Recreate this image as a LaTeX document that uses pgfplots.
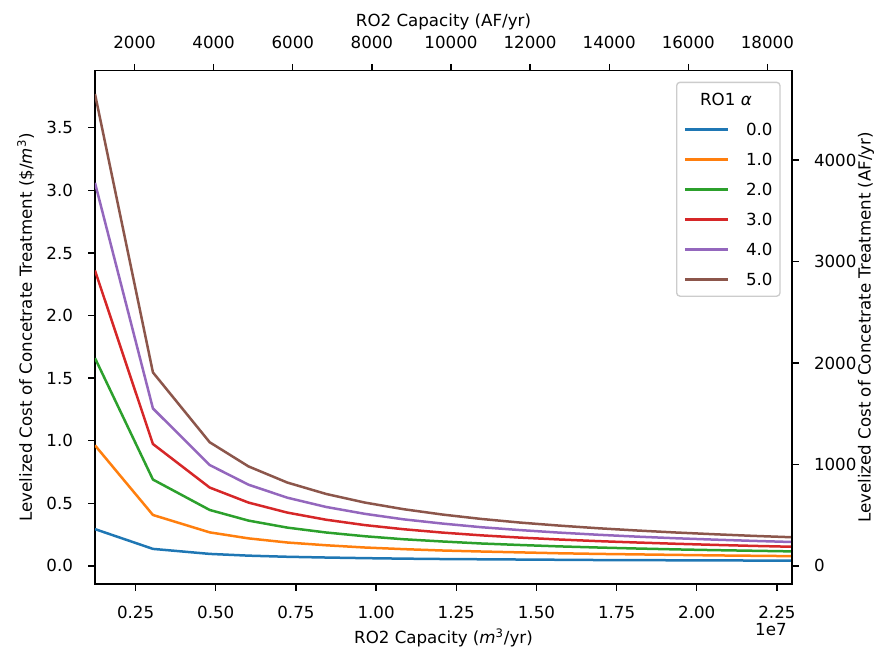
\documentclass[border=0pt]{standalone}
\usepackage{fontspec}
\setmainfont{DejaVu Sans}
\usepackage{pgfplots}
\pgfplotsset{compat=1.18}
\usepackage{pgfplotstable}

\definecolor{c0}{HTML}{1F77B4}
\definecolor{c1}{HTML}{FF7F0E}
\definecolor{c2}{HTML}{2CA02C}
\definecolor{c3}{HTML}{D62728}
\definecolor{c4}{HTML}{9467BD}
\definecolor{c5}{HTML}{8C564B}
\definecolor{legframe}{HTML}{CCCCCC}

\pgfplotstableread{
x a0 a1 a2 a3 a4 a5
1233500 0.294 0.963 1.660 2.360 3.060 3.770
3040000 0.136 0.407 0.690 0.974 1.258 1.546
4810000 0.096 0.268 0.447 0.626 0.806 0.988
6020000 0.082 0.220 0.362 0.506 0.649 0.795
7230000 0.073 0.187 0.306 0.426 0.545 0.666
8440000 0.067 0.165 0.267 0.369 0.471 0.575
9650000 0.062 0.147 0.237 0.326 0.416 0.506
10860000 0.058 0.134 0.213 0.293 0.372 0.453
12080000 0.055 0.123 0.195 0.266 0.338 0.410
13290000 0.053 0.115 0.179 0.244 0.309 0.375
14500000 0.051 0.108 0.167 0.226 0.286 0.346
15710000 0.049 0.101 0.156 0.211 0.266 0.322
16920000 0.047 0.096 0.147 0.198 0.249 0.301
18130000 0.046 0.092 0.139 0.187 0.234 0.283
19340000 0.045 0.088 0.132 0.177 0.221 0.267
20550000 0.044 0.084 0.126 0.168 0.210 0.253
21760000 0.043 0.081 0.121 0.160 0.200 0.240
22970000 0.042 0.078 0.116 0.153 0.191 0.229
}\costdata

\pgfplotsset{
  common/.style={
    at={(0,0)}, anchor=south west,
    scale only axis, width=418.2pt, height=308pt,
    tick align=outside,
    major tick length=4pt,
    axis line style={line width=0.8pt},
    every tick/.style={black, line width=0.8pt},
    tick label style={inner sep=0pt, font=\fontsize{10}{12}\selectfont},
    ticklabel shift=9pt,
    /pgf/number format/assume math mode=true,
    label style={font=\fontsize{10}{12}\selectfont, inner sep=0pt},
  }
}

\begin{document}
\begin{tikzpicture}
\begin{axis}[
  common,
  xmin=1233500, xmax=22970000,
  ymin=-0.1445, ymax=3.9564,
  tick pos=left,
  xtick={2500000,5000000,7500000,10000000,12500000,15000000,17500000,20000000,22500000},
  scaled x ticks=base 10:-7,
  xtick scale label code/.code={1e7},
  every x tick scale label/.style={at={(axis description cs:1,0)}, anchor=east, yshift=-27.6pt, xshift=-3pt, inner sep=0pt, font=\fontsize{10}{12}\selectfont},
  xticklabel style={/pgf/number format/fixed, /pgf/number format/fixed zerofill, /pgf/number format/precision=2},
  ytick={0,0.5,1,1.5,2,2.5,3,3.5},
  yticklabel style={/pgf/number format/fixed, /pgf/number format/fixed zerofill, /pgf/number format/precision=1},
  xlabel={RO2 Capacity (\textit{m}\textsuperscript{3}/yr)},
  xlabel style={at={([yshift=-32.4pt]axis description cs:0.5,0)}, anchor=center},
  ylabel={Levelized Cost of Concetrate Treatment (\$/\textit{m}\textsuperscript{3})},
  ylabel style={at={([xshift=-41.5pt]axis description cs:0,0.5)}, anchor=center},
  legend image code/.code={\draw[#1] (0pt,0pt) -- (25.6pt,0pt);},
  legend cell align=left,
  legend style={at={(1,1)}, anchor=north east, xshift=-6.8pt, yshift=-6.6pt,
    draw=legframe, line width=0.8pt, rounded corners=2pt, fill=white, fill opacity=0.8, text opacity=1,
    inner xsep=4.5pt, inner ysep=6.5pt, row sep=10.7pt, column sep=10pt,
    font=\fontsize{10}{12}\selectfont,
    nodes={inner sep=0pt, text height=7.3pt, text depth=0pt}},
]
\addlegendimage{empty legend}
\addlegendentry{\makebox[0pt][l]{\hspace*{-28pt}RO1 \textit{α}}}
\addplot[c0, line width=1.5pt, line join=round] table[x=x, y=a0] {\costdata};
\addlegendentry{0.0}
\addplot[c1, line width=1.5pt, line join=round] table[x=x, y=a1] {\costdata};
\addlegendentry{1.0}
\addplot[c2, line width=1.5pt, line join=round] table[x=x, y=a2] {\costdata};
\addlegendentry{2.0}
\addplot[c3, line width=1.5pt, line join=round] table[x=x, y=a3] {\costdata};
\addlegendentry{3.0}
\addplot[c4, line width=1.5pt, line join=round] table[x=x, y=a4] {\costdata};
\addlegendentry{4.0}
\addplot[c5, line width=1.5pt, line join=round] table[x=x, y=a5] {\costdata};
\addlegendentry{5.0}
\end{axis}

\begin{axis}[
  common,
  xmin=1000.0, xmax=18622.1,
  ymin=-178.24, ymax=4880.1,
  axis x line*=top, axis y line*=right,
  xtick={2000,4000,6000,8000,10000,12000,14000,16000,18000},
  ytick={0,1000,2000,3000,4000},
  scaled x ticks=false, scaled y ticks=false,
  /pgf/number format/1000 sep={},
  xlabel={RO2 Capacity (AF/yr)},
  xlabel style={at={([yshift=29.5pt]axis description cs:0.5,1)}, anchor=center},
  ylabel={Levelized Cost of Concetrate Treatment (AF/yr)},
  ylabel style={at={([xshift=44.4pt]axis description cs:1,0.5)}, anchor=center},
]
\end{axis}
\pgfresetboundingbox
\useasboundingbox (-57pt,-39pt) rectangle (471.6pt,350.4pt);
\end{tikzpicture}
\end{document}
